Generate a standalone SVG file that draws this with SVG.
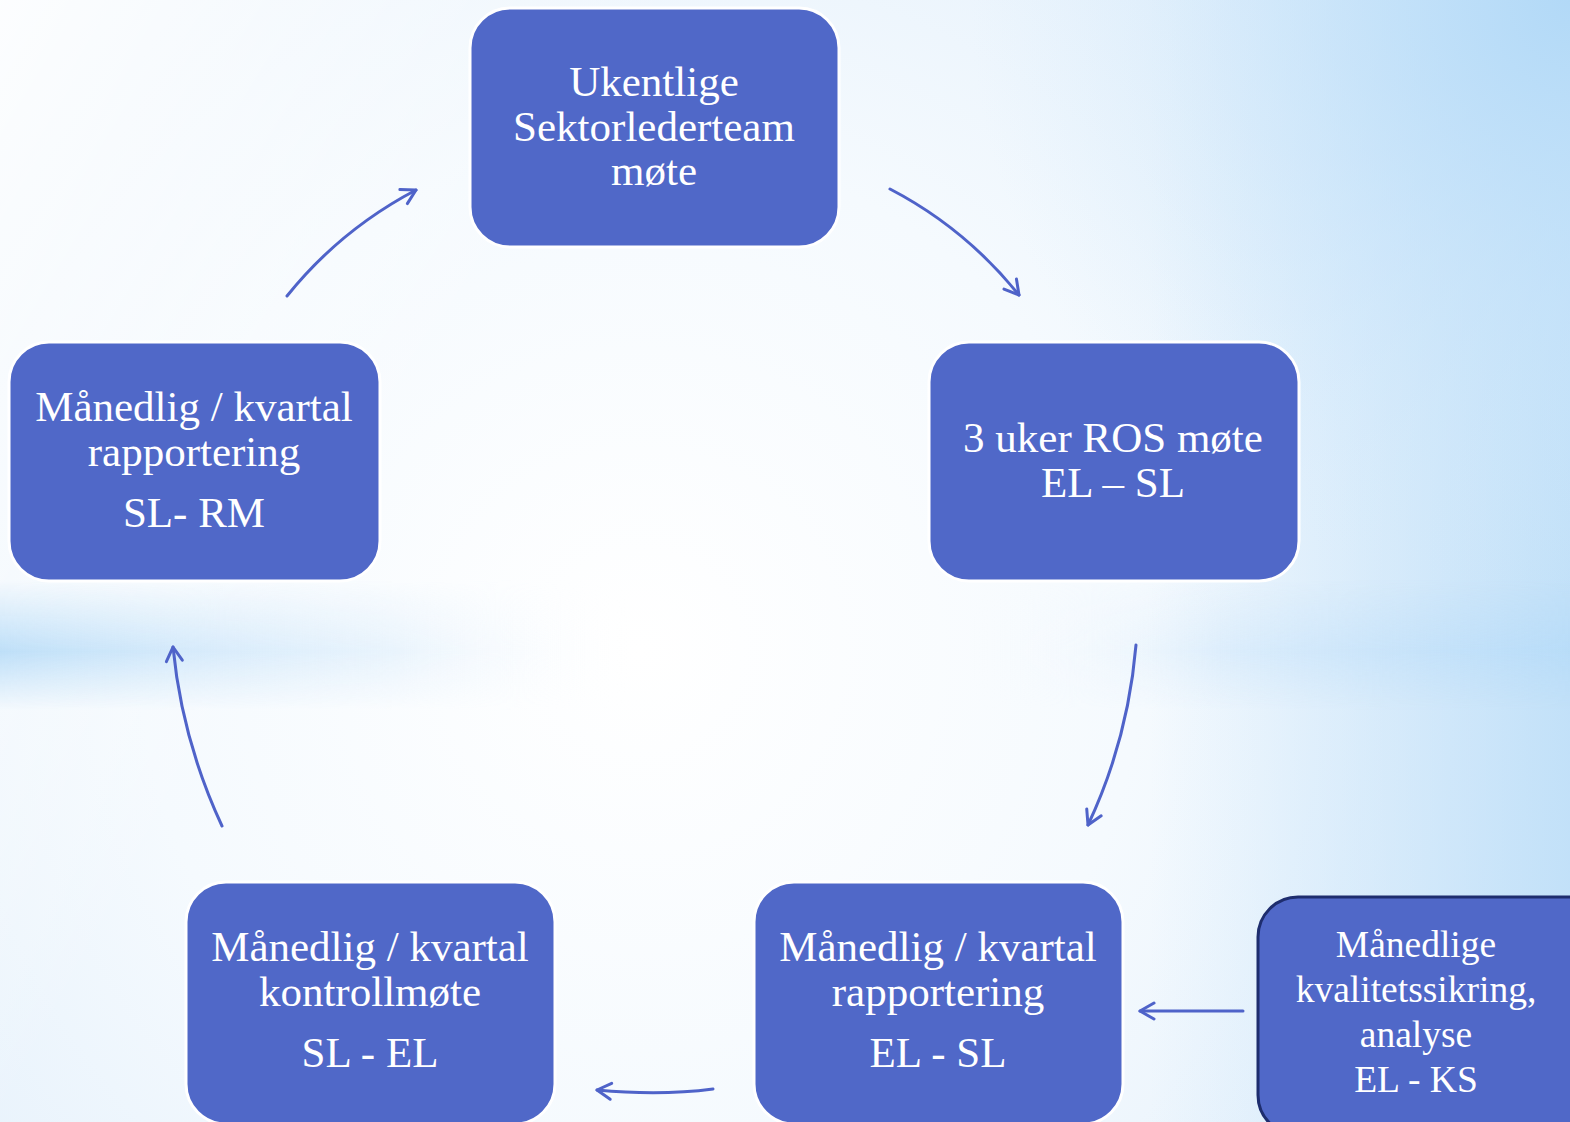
<svg xmlns="http://www.w3.org/2000/svg" width="1570" height="1122" viewBox="0 0 1570 1122">
<defs>
<style>
.node{fill:#5068C8;stroke:#FFFFFF;stroke-width:3}
.node2{fill:#5068C8;stroke:#1E2D6E;stroke-width:3}
.t{font-family:"Liberation Serif","Times New Roman",serif;font-size:43px;fill:#FFFFFF;text-anchor:middle}
.ts{font-family:"Liberation Serif","Times New Roman",serif;font-size:37.5px;fill:#FFFFFF;text-anchor:middle}
.c{fill:none;stroke:#4F63C9;stroke-width:3;stroke-linecap:round}
</style>
<marker id="ah" viewBox="0 0 20 20" refX="18" refY="10" markerWidth="20" markerHeight="20" markerUnits="userSpaceOnUse" orient="auto">
<path d="M4,2 L18,10 L4,18" fill="none" stroke="#4F63C9" stroke-width="3" stroke-linecap="round" stroke-linejoin="round"/>
</marker>
<radialGradient id="bg" cx="640" cy="650" r="1000" gradientUnits="userSpaceOnUse">
<stop offset="0" stop-color="#FFFFFF"/>
<stop offset="0.5" stop-color="#F5FAFE"/>
<stop offset="1" stop-color="#E2EFFB"/>
</radialGradient>
<linearGradient id="tl" x1="0" y1="0" x2="500" y2="300" gradientUnits="userSpaceOnUse">
<stop offset="0" stop-color="#FFFFFF" stop-opacity="0.9"/>
<stop offset="1" stop-color="#FFFFFF" stop-opacity="0"/>
</linearGradient>
<linearGradient id="rs" x1="1150" y1="0" x2="1570" y2="0" gradientUnits="userSpaceOnUse">
<stop offset="0" stop-color="#C4E2FA" stop-opacity="0"/>
<stop offset="1" stop-color="#BCDEF8" stop-opacity="0.85"/>
</linearGradient>
<radialGradient id="tr" cx="1570" cy="0" r="600" gradientUnits="userSpaceOnUse">
<stop offset="0" stop-color="#B2D9F7" stop-opacity="1"/>
<stop offset="0.5" stop-color="#C6E3FA" stop-opacity="0.5"/>
<stop offset="1" stop-color="#D6EBFB" stop-opacity="0"/>
</radialGradient>
<linearGradient id="bandH" x1="0" y1="0" x2="1570" y2="0" gradientUnits="userSpaceOnUse">
<stop offset="0" stop-color="#BEDFF8" stop-opacity="1"/>
<stop offset="0.25" stop-color="#D8EBFB" stop-opacity="0.5"/>
<stop offset="0.4" stop-color="#FFFFFF" stop-opacity="0"/>
<stop offset="0.62" stop-color="#FFFFFF" stop-opacity="0"/>
<stop offset="0.78" stop-color="#D2E8FB" stop-opacity="0.6"/>
<stop offset="1" stop-color="#B8DCF8" stop-opacity="1"/>
</linearGradient>
<linearGradient id="bandV" x1="0" y1="580" x2="0" y2="710" gradientUnits="userSpaceOnUse">
<stop offset="0" stop-color="#FFFFFF" stop-opacity="0"/>
<stop offset="0.55" stop-color="#FFFFFF" stop-opacity="1"/>
<stop offset="1" stop-color="#FFFFFF" stop-opacity="0"/>
</linearGradient>
<mask id="bandMask">
<rect x="0" y="580" width="1570" height="130" fill="url(#bandV)"/>
</mask>
</defs>
<g id="background">
<rect x="0" y="0" width="1570" height="1122" fill="url(#bg)"/>
<rect x="0" y="0" width="1570" height="1122" fill="url(#tl)"/>
<rect x="0" y="0" width="1570" height="1122" fill="url(#rs)"/>
<rect x="0" y="0" width="1570" height="1122" fill="url(#tr)"/>
<rect x="0" y="580" width="1570" height="130" fill="url(#bandH)" mask="url(#bandMask)"/>
</g>
<g id="connectors">
<path class="c" d="M287,296 Q340,230 416,190" marker-end="url(#ah)"/>
<path class="c" d="M890,189 Q965,228 1019,295" marker-end="url(#ah)"/>
<path class="c" d="M1136,645 Q1128,740 1088,825" marker-end="url(#ah)"/>
<path class="c" d="M713,1089 Q660,1096 597,1090" marker-end="url(#ah)"/>
<path class="c" d="M222,826 Q182,740 173,647" marker-end="url(#ah)"/>
<path class="c" d="M1243,1011 L1140,1011" marker-end="url(#ah)"/>
</g>
<g id="node-ukentlige">
<rect class="node" x="470" y="8" width="369" height="239" rx="40"/>
<text class="t" x="654" y="96">Ukentlige</text>
<text class="t" x="654" y="141">Sektorlederteam</text>
<text class="t" x="654" y="185">møte</text>
</g>
<g id="node-ros">
<rect class="node" x="929" y="342" width="370" height="239" rx="40"/>
<text class="t" x="1113" y="452">3 uker ROS møte</text>
<text class="t" x="1113" y="497">EL – SL</text>
</g>
<g id="node-rapportering-slrm">
<rect class="node" x="9" y="342" width="371" height="239" rx="40"/>
<text class="t" x="194" y="421">Månedlig / kvartal</text>
<text class="t" x="194" y="466">rapportering</text>
<text class="t" x="194" y="527">SL- RM</text>
</g>
<g id="node-kontrollmote">
<rect class="node" x="186" y="882" width="369" height="242" rx="40"/>
<text class="t" x="370" y="961">Månedlig / kvartal</text>
<text class="t" x="370" y="1006">kontrollmøte</text>
<text class="t" x="370" y="1067">SL - EL</text>
</g>
<g id="node-rapportering-elsl">
<rect class="node" x="754" y="882" width="369" height="242" rx="40"/>
<text class="t" x="938" y="961">Månedlig / kvartal</text>
<text class="t" x="938" y="1006">rapportering</text>
<text class="t" x="938" y="1067">EL - SL</text>
</g>
<g id="node-kvalitetssikring">
<rect class="node2" x="1258" y="897" width="368" height="238" rx="40"/>
<text class="ts" x="1416" y="957">Månedlige</text>
<text class="ts" x="1416" y="1002">kvalitetssikring,</text>
<text class="ts" x="1416" y="1047">analyse</text>
<text class="ts" x="1416" y="1092">EL - KS</text>
</g>
</svg>
